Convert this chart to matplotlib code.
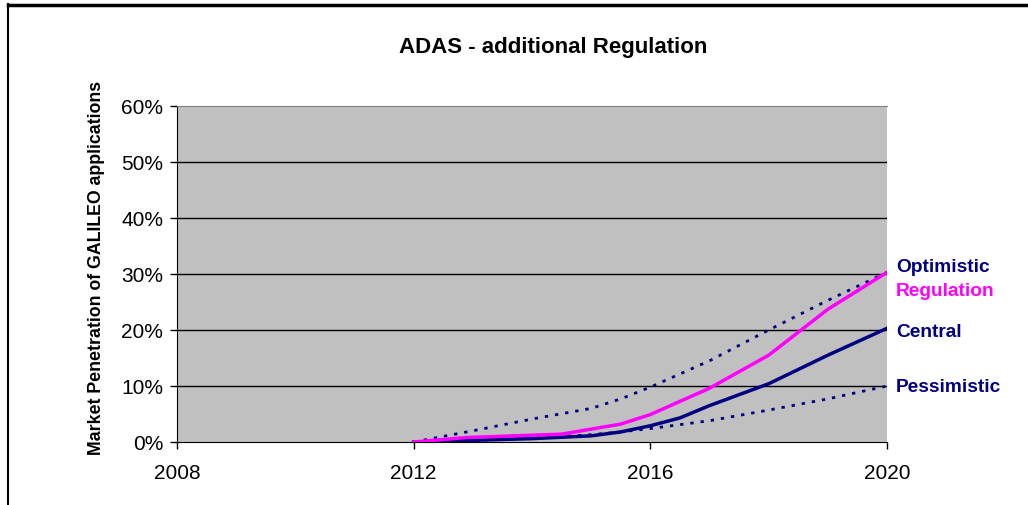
import matplotlib
matplotlib.use("Agg")
import matplotlib.pyplot as plt
from matplotlib.lines import Line2D

title = "ADAS - additional Regulation"
ylabel = "Market Penetration of GALILEO applications"

central_x = [2012, 2013, 2014, 2015, 2015.5, 2016, 2016.5, 2017, 2018, 2019, 2020]
central_y = [0.0, 0.3, 0.6, 1.1, 1.8, 2.9, 4.3, 6.5, 10.4, 15.5, 20.3]

regulation_x = [2012, 2012.9, 2014.5, 2015.5, 2016, 2017, 2018, 2019, 2020]
regulation_y = [0.0, 0.8, 1.4, 3.2, 4.9, 9.6, 15.5, 23.7, 30.3]

optimistic_x = [2012, 2013, 2014, 2015, 2015.5, 2016, 2017, 2018, 2019, 2020]
optimistic_y = [0.0, 2.0, 4.1, 6.0, 7.7, 9.8, 14.5, 20.0, 25.3, 30.3]

pessimistic_x = [2012, 2013, 2014, 2015, 2015.5, 2016, 2017, 2018, 2019, 2020]
pessimistic_y = [0.0, 0.3, 0.7, 1.3, 1.8, 2.4, 3.8, 5.7, 7.7, 10.0]

label_names = ["Optimistic", "Regulation", "Central", "Pessimistic"]
label_y = [31.3, 27.0, 19.8, 9.9]

x_ticks = [2008, 2012, 2016, 2020]
y_ticks = [0, 10, 20, 30, 40, 50, 60]

navy = "#000080"
magenta = "#FF00FF"

plt.rcParams['font.family'] = ['Liberation Sans', 'DejaVu Sans']

fig = plt.figure(figsize=(10.28, 5.06), dpi=100)
ax = fig.add_axes([177/1028, 1 - 443/506, (887 - 177)/1028, (443 - 107)/506])
ax.set_facecolor("#C0C0C0")

for v in y_ticks[1:-1]:
    ax.axhline(v, color="black", lw=1, zorder=1)

ax.plot(optimistic_x, optimistic_y, color=navy, lw=2, ls=(0, (1.2, 2.5)), zorder=3)
ax.plot(pessimistic_x, pessimistic_y, color=navy, lw=2, ls=(0, (1.2, 2.5)), zorder=3)
ax.plot(central_x, central_y, color=navy, lw=2.5, zorder=4)
ax.plot(regulation_x, regulation_y, color=magenta, lw=2.5, zorder=5)

ax.set_xlim(2008, 2020)
ax.set_ylim(0, 60)
ax.set_xticks(x_ticks)
ax.set_xticklabels([str(t) for t in x_ticks], fontsize=15)
ax.set_yticks(y_ticks)
ax.set_yticklabels([f"{t}%" for t in y_ticks], fontsize=15)
ax.tick_params(axis='both', direction='out', length=5, width=1, color='black')
ax.tick_params(axis='x', pad=10)
ax.tick_params(axis='y', pad=5)

ax.spines['top'].set_color('#808080')
ax.spines['right'].set_visible(False)
ax.spines['left'].set_color('black')
ax.spines['bottom'].set_color('black')

fig.text(97/1028, 1 - 268/506, ylabel, rotation=90, ha='center', va='center',
         fontsize=12.8, fontweight='bold')
fig.text(553/1028, 1 - 47/506, title, ha='center', va='center', fontsize=16, fontweight='bold')

label_colors = [navy, magenta, navy, navy]
for name, yv, c in zip(label_names, label_y, label_colors):
    ax.text(2020.15, yv, name, color=c, fontsize=13.8, fontweight='bold', ha='left', va='center',
            clip_on=False)

# partial outer frame (left and top)
fig.add_artist(Line2D([8/1028, 8/1028], [0, 1 - 5/506], transform=fig.transFigure, color='black', lw=1.5))
fig.add_artist(Line2D([8/1028, 1], [1 - 5.5/506, 1 - 5.5/506], transform=fig.transFigure, color='black', lw=2.5))

fig.savefig("out.png", dpi=100)
